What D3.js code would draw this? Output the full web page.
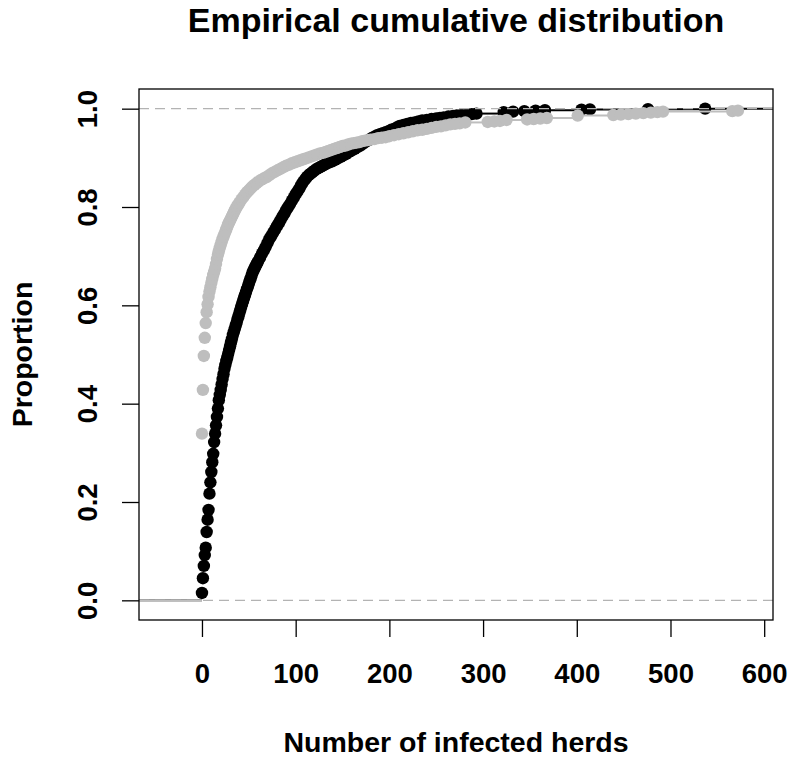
<!DOCTYPE html>
<html>
<head>
<meta charset="utf-8">
<script src="https://cdn.jsdelivr.net/npm/d3@7"></script>
<style>
  html, body { margin: 0; padding: 0; background: #fff; }
  svg { display: block; }
  text { font-family: "Liberation Sans", Arial, Helvetica, sans-serif; font-weight: bold; fill: #000; }
</style>
</head>
<body>
<svg id="chart" width="796" height="760"></svg>
<script>
// ---- data ----
const titleText = "Empirical cumulative distribution";
const xLabel = "Number of infected herds";
const yLabel = "Proportion";
const xTicks = [0, 100, 200, 300, 400, 500, 600];
const yTicks = [0.0, 0.2, 0.4, 0.6, 0.8, 1.0];

// Series 1 (black): ECDF jump points
const blackX = [0,1,2,3,4,5,6,7,8,9,10,11,12,13,14,15,16,17,18,19,20,21,22,23,24,25,26,27,28,29,30,
  31,32,33,34,35,36,37,38,39,40,41,42,43,44,45,46,47,48,49,50,51,52,53,54,55,56,57,58,59,60,
  62,64,66,68,70,72,74,76,78,80,82,84,86,88,90,92,94,96,98,100,102,104,106,108,110,112,114,116,118,120,
  122,124,126,128,130,133,136,139,142,145,148,151,154,157,160,163,166,169,172,175,178,181,184,187,190,
  193,196,199,202,205,208,211,215,219,223,227,231,235,240,245,250,254,258,263,268,272,277,283,288,293,
  322,332,344,356,366,405,414,476,537];
const blackY = [.015,.045,.070,.092,.107,.139,.164,.184,.217,.240,.261,.281,.298,.322,.339,.356,.373,.390,.407,.418,.428,
  .439,.450,.460,.471,.479,.487,.494,.502,.509,.517,.525,.532,.540,.546,.552,.559,.565,.572,.578,.585,
  .591,.598,.604,.610,.616,.621,.627,.633,.638,.644,.650,.655,.661,.667,.671,.675,.679,.683,.686,.690,
  .697,.705,.712,.719,.727,.735,.741,.748,.754,.761,.767,.774,.781,.787,.794,.800,.806,.813,.819,.826,
  .832,.838,.845,.851,.856,.861,.865,.868,.871,.874,.877,.879,.881,.883,.885,.888,.891,.893,.896,.899,
  .902,.905,.908,.912,.915,.918,.922,.925,.929,.933,.936,.940,.943,.946,.948,.950,.952,.954,.957,.959,
  .962,.965,.967,.969,.971,.972,.974,.976,.977,.979,.980,.981,.982,.984,.985,.986,.987,.988,.989,.990,
  .993,.994,.995,.996,.997,.998,.9985,.999,1.0];

// Series 2 (grey): ECDF jump points
const grayX = [0,1,2,3,4,5,6,7,8,9,10,11,12,13,14,15,16,17,18,19,20,21,22,23,24,25,26,27,28,29,30,
  31,32,33,34,35,36,37,38,39,40,42,44,46,48,50,52,54,56,58,60,63,66,69,72,75,78,81,84,87,90,93,96,99,
  102,105,108,111,114,117,120,123,126,129,132,135,138,141,144,147,150,153,156,159,162,165,168,171,174,177,
  180,184,188,192,196,200,205,210,215,220,225,230,235,240,245,250,255,260,265,270,275,281,
  305,312,318,325,347,354,361,368,401,439,447,455,463,471,479,486,492,566,572,578];
const grayY = [.339,.428,.497,.534,.564,.586,.602,.617,.628,.637,.646,.654,.662,.668,.675,.684,.694,.703,.710,.717,.723,
  .729,.735,.740,.745,.750,.755,.760,.765,.769,.773,.777,.781,.785,.789,.793,.796,.800,.803,.806,.809,
  .815,.820,.825,.830,.834,.838,.842,.845,.848,.851,.855,.858,.861,.865,.869,.872,.875,.878,.881,.884,
  .886,.889,.891,.893,.895,.897,.899,.901,.903,.905,.907,.909,.910,.912,.914,.916,.918,.920,.922,.924,
  .925,.927,.929,.930,.931,.932,.934,.935,.936,.937,.938,.940,.941,.942,.944,.946,.948,.950,.952,.954,
  .956,.957,.959,.961,.963,.964,.966,.968,.969,.970,
  .972,.973,.974,.975,.977,.978,.979,.980,.981,.986,.987,.988,.989,.990,.991,.992,.993,.994,.995,.996];

// ---- drawing ----
const svg = d3.select("#chart");
const box = { left: 139, right: 773, top: 89, bottom: 620 };

const x = d3.scaleLinear().domain([-67.2, 609.4]).range([box.left, box.right]);
const y = d3.scaleLinear().domain([-0.04, 1.04]).range([box.bottom, box.top]);

const blackPts = blackX.map((v, i) => ({ x: v, y: blackY[i] }));
const grayPts = grayX.map((v, i) => ({ x: v, y: grayY[i] }));

const plot = svg.append("g");
plot.append("clipPath").attr("id", "clip")
  .append("rect").attr("x", box.left).attr("y", box.top)
  .attr("width", box.right - box.left).attr("height", box.bottom - box.top);
const inner = plot.append("g").attr("clip-path", "url(#clip)");

function stepSegments(pts) {
  const segs = [];
  const [x0, x1] = x.domain();
  segs.push({ a: x0, b: pts[0].x, v: 0 });
  for (let i = 0; i < pts.length - 1; i++) segs.push({ a: pts[i].x, b: pts[i + 1].x, v: pts[i].y });
  segs.push({ a: pts[pts.length - 1].x, b: x1, v: pts[pts.length - 1].y });
  return segs;
}

function drawEcdf(pts, color) {
  const g = inner.append("g");
  g.selectAll("line").data(stepSegments(pts)).join("line")
    .attr("x1", d => x(d.a)).attr("x2", d => x(d.b))
    .attr("y1", d => y(d.v)).attr("y2", d => y(d.v))
    .attr("stroke", color).attr("stroke-width", 2);
  g.selectAll("circle").data(pts).join("circle")
    .attr("cx", d => x(d.x)).attr("cy", d => y(d.y))
    .attr("r", 6.2).attr("fill", color);
}

drawEcdf(blackPts, "#000000");

// dashed reference lines at 0 and 1
inner.selectAll("line.ref").data([0, 1]).join("line").attr("class", "ref")
  .attr("x1", box.left).attr("x2", box.right)
  .attr("y1", d => y(d)).attr("y2", d => y(d))
  .attr("stroke", "#b3b3b3").attr("stroke-width", 1.3)
  .attr("stroke-dasharray", "10,6");

drawEcdf(grayPts, "#bebebe");

// box
svg.append("rect").attr("x", box.left).attr("y", box.top)
  .attr("width", box.right - box.left).attr("height", box.bottom - box.top)
  .attr("fill", "none").attr("stroke", "#000").attr("stroke-width", 1.3);

// x axis
const xAxis = svg.append("g").attr("transform", `translate(0,${box.bottom})`)
  .call(d3.axisBottom(x).tickValues(xTicks).tickFormat(d3.format("d")).tickSize(17).tickPadding(26));
xAxis.select(".domain").remove();
xAxis.selectAll(".tick line").attr("stroke", "#000").attr("stroke-width", 1.3);
xAxis.selectAll(".tick text").attr("font-size", 27.5).attr("font-family", null).attr("fill", "#000");

// y axis
const yAxis = svg.append("g").attr("transform", `translate(${box.left},0)`)
  .call(d3.axisLeft(y).tickValues(yTicks).tickFormat(d3.format(".1f")).tickSize(17));
yAxis.select(".domain").remove();
yAxis.selectAll(".tick line").attr("stroke", "#000").attr("stroke-width", 1.3);
yAxis.selectAll(".tick text")
  .attr("x", null).attr("dy", null)
  .attr("transform", "translate(-42,0) rotate(-90)")
  .attr("text-anchor", "middle")
  .attr("font-size", 27.5).attr("font-family", null).attr("fill", "#000");

// titles
svg.append("text").attr("x", (box.left + box.right) / 2).attr("y", 32)
  .attr("text-anchor", "middle").attr("font-size", 34).text(titleText);
svg.append("text").attr("x", (box.left + box.right) / 2).attr("y", 752)
  .attr("text-anchor", "middle").attr("font-size", 28.5).text(xLabel);
svg.append("text").attr("transform", `translate(32,${(box.top + box.bottom) / 2}) rotate(-90)`)
  .attr("text-anchor", "middle").attr("font-size", 28.5).text(yLabel);
</script>
</body>
</html>
